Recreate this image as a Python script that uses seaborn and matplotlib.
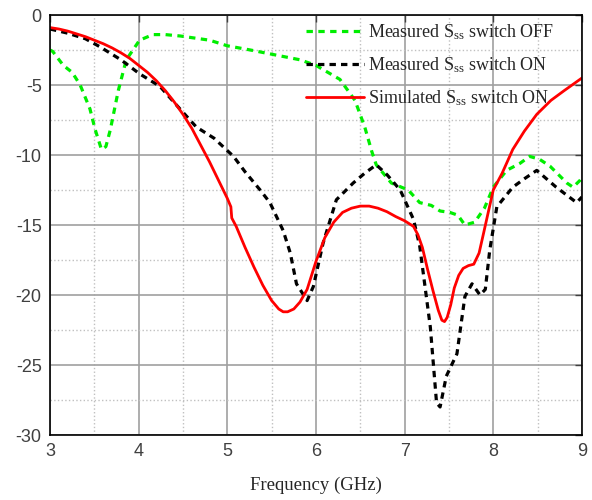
import numpy as np
import pandas as pd
import matplotlib
matplotlib.use("Agg")
import matplotlib.pyplot as plt
import seaborn as sns
from matplotlib.ticker import MultipleLocator

# Measured S_ss, switch OFF
off_f = [3.0, 3.03, 3.15, 3.25, 3.34, 3.45, 3.51, 3.58, 3.63, 3.68, 3.77, 3.86, 4.01, 4.16, 4.3,
         4.47, 4.8, 5.0, 5.26, 5.5, 5.82, 6.0, 6.27, 6.44, 6.55, 6.63, 6.68, 6.85, 7.04, 7.17,
         7.3, 7.4, 7.51, 7.6, 7.68, 7.79, 7.9, 8.0, 8.15, 8.3, 8.41, 8.52, 8.64, 8.83, 8.9,
         8.98, 9.0]
off_db = [-2.5, -2.6, -3.6, -4.1, -5.0, -6.7, -8.2, -9.6, -9.4, -8.2, -5.4, -3.2, -1.8, -1.4, -1.4,
          -1.5, -1.8, -2.2, -2.5, -2.8, -3.2, -3.6, -4.6, -6.1, -8.0, -9.76, -10.7, -12.0, -12.5, -13.4,
          -13.6, -14.0, -14.1, -14.3, -15.0, -14.8, -13.8, -12.3, -11.1, -10.6, -10.1, -10.3, -10.8, -12.0, -12.3,
          -11.8, -11.6]

# Measured S_ss, switch ON
on_f = [3.0, 3.2, 3.4, 3.56, 3.8, 4.01, 4.24, 4.45, 4.65, 4.85, 5.07, 5.2, 5.37, 5.48, 5.63,
        5.71, 5.78, 5.9, 5.97, 6.08, 6.23, 6.42, 6.55, 6.68, 6.8, 6.95, 7.1, 7.17, 7.29,
        7.36, 7.4, 7.47, 7.59, 7.68, 7.76, 7.85, 7.91, 7.96, 8.04, 8.22, 8.35, 8.49,
        8.6, 8.71, 8.94, 9.0]
on_db = [-1.0, -1.3, -1.7, -2.26, -3.2, -4.2, -5.1, -6.6, -8.0, -8.8, -10.1, -11.2, -12.5, -13.4, -15.4,
         -17.0, -19.2, -20.4, -19.4, -16.3, -13.2, -12.0, -11.3, -10.7, -11.4, -12.5, -14.6, -16.5, -22.3,
         -27.7, -28.0, -25.8, -24.2, -20.1, -19.2, -20.0, -19.6, -16.8, -13.7, -12.3, -11.7, -11.1,
         -11.7, -12.3, -13.4, -13.0]

# Simulated S_ss, switch ON
sim_f = [3.0, 3.1, 3.2, 3.3, 3.4, 3.5, 3.6, 3.7, 3.8, 3.9, 4.0, 4.1, 4.2, 4.3, 4.4,
         4.5, 4.6, 4.7, 4.8, 4.9, 5.0, 5.04, 5.05, 5.1, 5.2, 5.3, 5.4, 5.5, 5.58,
         5.63, 5.68, 5.75, 5.82, 5.9, 6.0, 6.1, 6.2, 6.3, 6.4, 6.5, 6.6, 6.7, 6.8,
         6.9, 7.0, 7.1, 7.15, 7.2, 7.26, 7.32, 7.38, 7.42, 7.45, 7.48, 7.52, 7.56, 7.61,
         7.66, 7.72, 7.78, 7.84, 7.89, 7.95, 8.0, 8.1, 8.22, 8.35, 8.49, 8.65, 8.8, 9.0]
sim_db = [-0.9, -1.0, -1.15, -1.35, -1.55, -1.8, -2.05, -2.35, -2.7, -3.1, -3.6, -4.1, -4.7, -5.4, -6.2,
          -7.1, -8.1, -9.3, -10.5, -11.8, -13.1, -13.7, -14.5, -15.1, -16.6, -18.0, -19.3, -20.4, -21.0,
          -21.2, -21.2, -21.0, -20.5, -19.6, -17.6, -15.9, -14.8, -14.1, -13.8, -13.65, -13.65, -13.8, -14.05,
          -14.4, -14.7, -15.1, -15.7, -16.6, -18.2, -19.7, -21.1, -21.8, -21.9, -21.6, -20.7, -19.5, -18.6,
          -18.1, -17.9, -17.8, -17.0, -15.6, -13.9, -12.5, -11.3, -9.6, -8.3, -7.1, -6.1, -5.4, -4.5]

labels = [r"Measured $\mathregular{S_{ss}}$ switch OFF",
          r"Measured $\mathregular{S_{ss}}$ switch ON",
          r"Simulated $\mathregular{S_{ss}}$ switch ON"]

sns.set_style("white")
plt.rcParams["font.family"] = ["Liberation Sans", "DejaVu Sans"]
plt.rcParams["axes.unicode_minus"] = False

fig = plt.figure(figsize=(5.92, 5.0), dpi=100)
ax = fig.add_axes([0.0845, 0.13, 0.8985, 0.84])

sns.lineplot(x=off_f, y=off_db, ax=ax, color="#00ee00", linewidth=2.3,
             label=labels[0], sort=False).lines[-1].set_dashes([2.0, 1.7])
sns.lineplot(x=on_f, y=on_db, ax=ax, color="black", linewidth=2.3,
             label=labels[1], sort=False).lines[-1].set_dashes([2.0, 1.6])
sns.lineplot(x=sim_f, y=sim_db, ax=ax, color="#ff0000", linewidth=2.0,
             label=labels[2], sort=False)

ax.set_xlim(3, 9)
ax.set_ylim(-30, 0)
ax.xaxis.set_major_locator(MultipleLocator(1))
ax.xaxis.set_minor_locator(MultipleLocator(0.5))
ax.yaxis.set_major_locator(MultipleLocator(5))
ax.yaxis.set_minor_locator(MultipleLocator(2.5))
ax.grid(which="major", color="#a0a0a0", linestyle="-", linewidth=1.2)
ax.grid(which="minor", color="#c0c0c0", linestyle=":", linewidth=1.0)
ax.set_axisbelow(True)
ax.tick_params(which="major", direction="in", length=5, width=1, top=True, right=True,
               labelsize=13, colors="#404040", labelcolor="#404040", pad=6)
ax.tick_params(which="minor", length=0)
for s in ax.spines.values():
    s.set_color("black")
    s.set_linewidth(1.2)

ax.set_xlabel("Frequency (GHz)", family="Liberation Serif", fontsize=13.5, labelpad=12)
ax.set_ylabel("")

leg = ax.legend(loc="upper right", frameon=False, prop={"family": "Liberation Serif", "size": 13},
                handlelength=3.2, handletextpad=0.25, labelspacing=0.75,
                borderaxespad=0.1, bbox_to_anchor=(0.965, 1.005))

fig.savefig("out.png", dpi=100)
